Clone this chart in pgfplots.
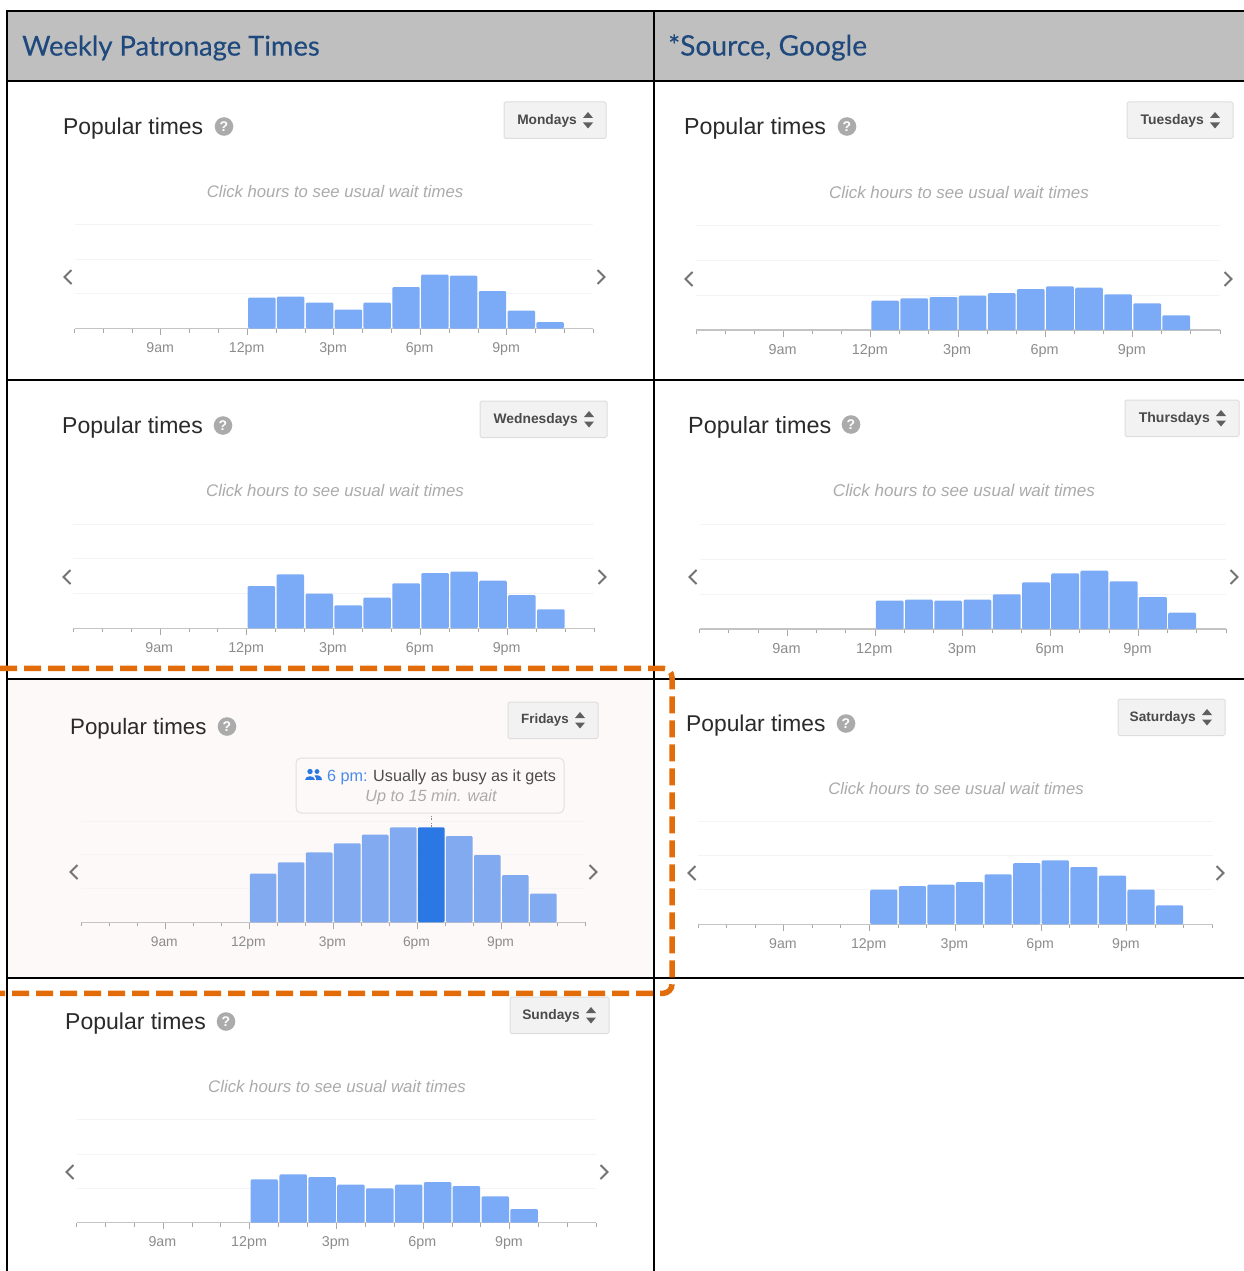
\documentclass[border=0pt]{standalone}
\usepackage{pgfplots}
\usepackage{pgfplotstable}
\pgfplotsset{compat=1.18}
\usepackage{fontspec}
\setmainfont{Liberation Sans}
\newfontfamily\headfont[FakeBold=0.35]{Lato}
\definecolor{hdrgray}{HTML}{BFBFBF}
\definecolor{hdrblue}{HTML}{1F497D}
\definecolor{barblue}{HTML}{7BABF7}
\definecolor{barfri}{HTML}{82AAF0}
\definecolor{barhi}{HTML}{2B78E4}
\definecolor{axisgray}{HTML}{C4C4C4}
\definecolor{tickgray}{HTML}{A8A8A8}
\definecolor{gridgray}{HTML}{F4F4F4}
\definecolor{ticktxt}{HTML}{8C8C8C}
\definecolor{clicktxt}{HTML}{ABABAB}
\definecolor{orangeline}{HTML}{E36C0A}
\definecolor{pinkbg}{HTML}{FDF9F8}
\definecolor{btnfill}{HTML}{F2F2F2}
\definecolor{btnline}{HTML}{DDDDDD}
\definecolor{titletxt}{HTML}{2A2A2A}

% bar heights, in the reference's pixels above the baseline
\pgfplotstableread{
h v
12.5 31
13.5 32
14.5 26
15.5 19
16.5 26
17.5 41.5
18.5 54
19.5 53
20.5 37.5
21.5 18
22.5 6.5
}\mon
\pgfplotstableread{
h v
12.5 29.3
13.5 31.7
14.5 33
15.5 34.3
16.5 37
17.5 41
18.5 43.7
19.5 42.3
20.5 35.7
21.5 26.7
22.5 14.7
}\tue
\pgfplotstableread{
h v
12.5 42.3
13.5 54
14.5 34.7
15.5 23
16.5 30.7
17.5 45
18.5 55.3
19.5 56.7
20.5 47.7
21.5 33.3
22.5 19
}\wed
\pgfplotstableread{
h v
12.5 28.3
13.5 29.3
14.5 28.3
15.5 29.3
16.5 34.7
17.5 46.7
18.5 55.7
19.5 58.3
20.5 47.7
21.5 32
22.5 16.3
}\thu
\pgfplotstableread{
h v
12.5 48.7
13.5 60
14.5 70
15.5 79
16.5 87.7
17.5 95
19.5 86.3
20.5 67.3
21.5 47.3
22.5 28.7
}\fri
\pgfplotstableread{
h v
18.5 95
}\frihi
\pgfplotstableread{
h v
12.5 34.7
13.5 38.3
14.5 39.7
15.5 42.3
16.5 50
17.5 61.3
18.5 64
19.5 57.3
20.5 48.7
21.5 34.7
22.5 19
}\sat
\pgfplotstableread{
h v
12.5 43.3
13.5 48.3
14.5 45.7
15.5 38
16.5 34.3
17.5 38
18.5 40.7
19.5 36.7
20.5 26.3
21.5 13.7
}\sun

\pgfplotsset{panel/.style={
  scale only axis, clip=false,
  xmin=6, xmax=24, ymin=0,
  axis x line=bottom, axis y line=left,
  tick align=outside,
  x axis line style={-, draw=axisgray, line width=1.3pt},
  y axis line style={-, draw=none},
  xtick={9,12,15,18,21},
  xticklabels={9am,12pm,3pm,6pm,9pm},
  minor xtick={6,7,8,10,11,13,14,16,17,19,20,22,23,24},
  major tick length=6.5pt, minor tick length=4pt,
  xtick style={draw=tickgray, line width=1pt},
  minor tick style={draw=tickgray, line width=1pt},
  ytick style={draw=none},
  yticklabels={},
  ymajorgrids, grid style={draw=gridgray, line width=1pt},
  xticklabel style={text=ticktxt, inner sep=0pt, yshift=-7.5pt, xshift=-0.8pt},
}}

% xl xr base top table fs
\newcommand{\PanelAxis}[6]{%
  \pgfmathsetmacro{\W}{#2-#1}%
  \pgfmathsetmacro{\H}{#3-#4}%
  \pgfmathsetmacro{\Ha}{\H/3}%
  \pgfmathsetmacro{\Hb}{2*\H/3}%
  \pgfmathsetmacro{\BW}{\W/18-1.4}%
  \pgfmathsetmacro{\TS}{#6*0.62}%
  \begin{axis}[panel, at={(#1pt,-#3pt)}, anchor=south west,
    width=\W pt, height=\H pt, ymax=\H, ytick={\Ha,\Hb,\H},
    xticklabel style={font=\fontsize{\TS}{\TS}\selectfont}]
    \addplot[ybar, bar width=\BW pt, bar shift=0pt, fill=barblue, draw=none,
      rounded corners=1.2pt] table[x=h,y=v]{#5};
  \end{axis}}

% titleX titleY iconX btnL btnR btnY Day fs
\newcommand{\PanelHead}[8]{%
  \pgfmathsetmacro{\BS}{#8*0.6}%
  \node[anchor=west, inner sep=0pt, text=titletxt] at (#1,#2+2)
    {\fontsize{#8}{#8}\selectfont Popular times};
  \fill[color=clicktxt] (#3,#2-0.5) circle[radius=9.3];
  \node[text=white, inner sep=0pt] at (#3,#2-0.5) {\fontsize{14}{14}\selectfont\bfseries ?};
  \draw[fill=btnfill, draw=btnline, line width=1pt, rounded corners=1.5pt]
    (#4,#6) rectangle (#5,#6+36.5);
  \node[anchor=east, inner sep=0pt, text=titletxt!85] at (#5-29,#6+18.5)
    {\fontsize{\BS}{\BS}\selectfont\bfseries #7};
  \fill[color=titletxt!75] (#5-23,#6+16) -- (#5-13,#6+16) -- (#5-18,#6+10) -- cycle;
  \fill[color=titletxt!75] (#5-23,#6+20.5) -- (#5-13,#6+20.5) -- (#5-18,#6+26.5) -- cycle;
}

% arrowL arrowR arrowY
\newcommand{\PanelNav}[3]{%
  \draw[color=black!55, line width=2pt] (#1+3.5,#3-7) -- (#1-3.5,#3) -- (#1+3.5,#3+7);
  \draw[color=black!55, line width=2pt] (#2-3.5,#3-7) -- (#2+3.5,#3) -- (#2-3.5,#3+7);
}
% clickX clickY fs
\newcommand{\PanelClick}[3]{%
  \pgfmathsetmacro{\CS}{#3*0.73}%
  \node[inner sep=0pt, text=clicktxt] at (#1,#2+0.5)
    {\fontsize{\CS}{\CS}\selectfont\itshape Click hours to see usual wait times};
}

\begin{document}
\begin{tikzpicture}
\useasboundingbox (0pt,0pt) rectangle (1244pt,-1271pt);
\fill[white] (0pt,0pt) rectangle (1244pt,-1271pt);

\begin{scope}[x=1pt,y=-1pt]
  \fill[hdrgray] (7,11) rectangle (1244,81);
  \fill[pinkbg] (8,680) rectangle (654,978);
  \node[anchor=west, inner sep=0pt, text=hdrblue] at (22,48)
    {\fontsize{27.4}{30}\selectfont\headfont Weekly Patronage Times};
  \node[anchor=west, inner sep=0pt, text=hdrblue] at (668,47.5)
    {\fontsize{28.2}{30}\selectfont\headfont *Source, Google};
  \draw[black, line width=2pt] (6,11) -- (1244,11);
  \draw[black, line width=2pt] (7,81) -- (1244,81);
  \draw[black, line width=2pt] (7,10) -- (7,1271);
  \draw[black, line width=2pt] (654,10) -- (654,1271);
  \draw[black, line width=1.6pt] (7,380) -- (1244,380);
  \draw[black, line width=1.6pt] (7,679) -- (1244,679);
  \draw[black, line width=1.6pt] (7,978) -- (1244,978);

  \PanelHead{63}{127}{224}{504}{606}{102}{Mondays}{22.9}
  \PanelNav{68}{601}{277}
  \PanelClick{335}{191}{22.9}
  \PanelHead{684}{127}{847}{1127}{1233}{102}{Tuesdays}{23.2}
  \PanelNav{689}{1228}{279}
  \PanelClick{959}{192}{23.2}
  \PanelHead{62}{426}{223}{480}{607}{401}{Wednesdays}{23}
  \PanelNav{67}{602}{577}
  \PanelClick{335}{490}{23}
  \PanelHead{688}{425}{851}{1125}{1239}{400}{Thursdays}{23.4}
  \PanelNav{693}{1234}{577}
  \PanelClick{964}{490}{23.4}
  \PanelHead{70}{727}{227}{508}{598}{702}{Fridays}{22.3}
  \PanelNav{74}{593}{872}
  \PanelHead{686}{724}{846}{1118}{1225}{699}{Saturdays}{22.8}
  \PanelNav{692}{1220}{873}
  \PanelClick{956}{788}{22.8}
  \PanelHead{65}{1022}{226}{510}{609}{997}{Sundays}{23}
  \PanelNav{70}{604}{1172}
  \PanelClick{337}{1086}{23}

  % tooltip on the Fridays panel
  \draw[fill=pinkbg, draw=black!12, line width=1pt, rounded corners=5pt]
    (296,758) rectangle (564,813);
  \draw[black!45, densely dotted, line width=0.7pt] (431,816) -- (431,827);
  \fill[barhi] (310,771.5) circle[radius=2.7];
  \fill[barhi] (317,771.5) circle[radius=2.4];
  \fill[barhi] (305,780) .. controls (305,775) and (315,775) .. (315,780) -- cycle;
  \fill[barhi] (316,780) -- (316,778) .. controls (316,776.5) and (315,776) .. (314.5,775.5)
     .. controls (318,774.5) and (322,776) .. (322,780) -- cycle;
  \node[anchor=base west, inner sep=0pt, text=barhi!85!white] at (327,781)
    {\fontsize{16.2}{16}\selectfont 6 pm:};
  \node[anchor=base west, inner sep=0pt, text=black!70] at (373,781)
    {\fontsize{16.2}{16}\selectfont Usually as busy as it gets};
  \node[inner sep=0pt, text=clicktxt] at (431,797.5)
    {\fontsize{16.2}{16}\selectfont\itshape Up to 15 min. wait};
\end{scope}

\PanelAxis{74.5}{593.4}{328.5}{224.5}{\mon}{22.9}
\PanelAxis{696}{1220}{330}{225.7}{\tue}{23.2}
\PanelAxis{73.2}{594.3}{628.3}{524.3}{\wed}{23}
\PanelAxis{699.6}{1226}{629}{524.3}{\thu}{23.4}
\PanelAxis{698}{1212.5}{924.3}{821.3}{\sat}{22.8}
\PanelAxis{76.6}{596.4}{1222.7}{1119.7}{\sun}{23}

% Fridays: one highlighted hour
\pgfmathsetmacro{\W}{585.4-81}
\pgfmathsetmacro{\BW}{\W/18-1.4}
\pgfmathsetmacro{\TS}{22.3*0.62}
\begin{axis}[panel, at={(81pt,-922.3pt)}, anchor=south west,
  width=504.4pt, height=101pt, ymax=101, ytick={33.67,67.33,101},
  xticklabel style={font=\fontsize{\TS}{\TS}\selectfont}]
  \addplot[ybar, bar width=\BW pt, bar shift=0pt, fill=barfri, draw=none,
    rounded corners=1.2pt] table[x=h,y=v]{\fri};
  \addplot[ybar, bar width=\BW pt, bar shift=0pt, fill=barhi, draw=none,
    rounded corners=1.2pt] table[x=h,y=v]{\frihi};
\end{axis}

% orange highlight
\begin{scope}[x=1pt,y=-1pt]
  \draw[orangeline, line width=5.5pt, dash pattern=on 17pt off 7pt, rounded corners=9pt]
    (0,668.3) -- (672,668.3) -- (672,993.3) -- (0,993.3);
\end{scope}
\end{tikzpicture}
\end{document}
